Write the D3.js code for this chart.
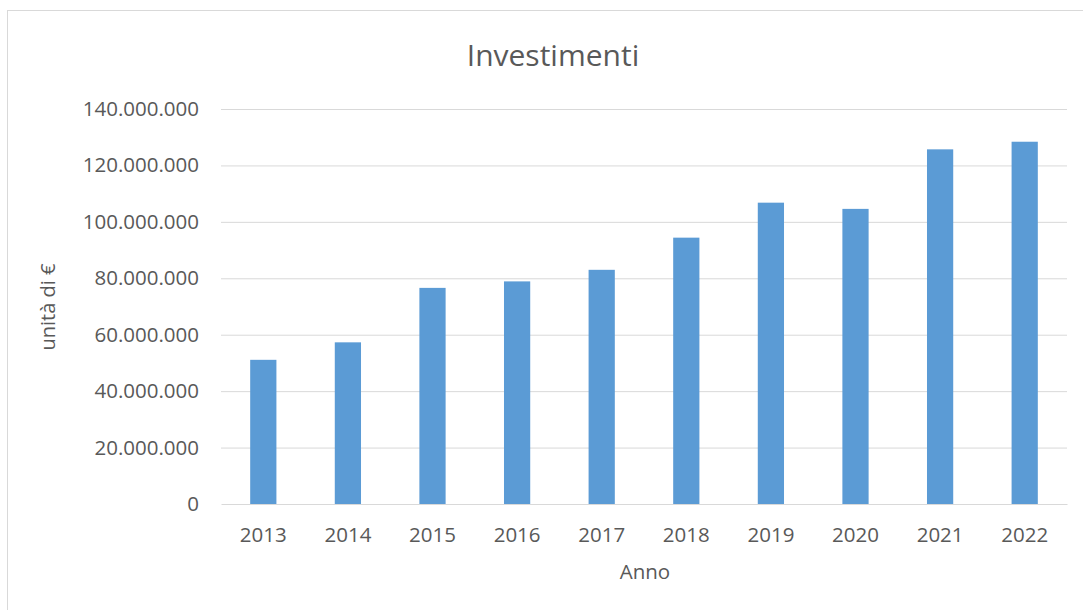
<!DOCTYPE html>
<html>
<head>
<meta charset="utf-8">
<script src="https://cdn.jsdelivr.net/npm/d3@7"></script>
<style>
  body { margin: 0; background: #fff; }
  text { font-family: "Open Sans", sans-serif; fill: #595959; }
</style>
</head>
<body>
<div id="chart"></div>
<script>
// data
const years = ["2013", "2014", "2015", "2016", "2017", "2018", "2019", "2020", "2021", "2022"];
const investimenti = [51100000, 57300000, 76600000, 78900000, 83000000, 94400000, 106800000, 104600000, 125700000, 128400000];
const yTicks = [0, 20000000, 40000000, 60000000, 80000000, 100000000, 120000000, 140000000];

const width = 1083, height = 610;
const margin = { top: 109, right: 16, bottom: 106, left: 221 };
const innerW = width - margin.left - margin.right;
const innerH = height - margin.top - margin.bottom;

const svg = d3.select("#chart")
    .append("svg")
    .attr("width", width)
    .attr("height", height);

// chart border (right and bottom edges run off the picture)
svg.append("rect")
    .attr("x", 7.5).attr("y", 10.5)
    .attr("width", width).attr("height", height)
    .attr("fill", "none")
    .attr("stroke", "#d9d9d9");

const g = svg.append("g")
    .attr("transform", "translate(" + margin.left + "," + margin.top + ")");

const x = d3.scaleBand()
    .domain(years)
    .range([0, innerW])
    .paddingInner(0.69)
    .paddingOuter(0.345);

const y = d3.scaleLinear()
    .domain([0, 140000000])
    .range([innerH, 0]);

const fmt = d3.formatLocale({ decimal: ",", thousands: ".", grouping: [3], currency: ["", "€"] }).format(",d");

// gridlines + y labels
const yAxis = g.append("g")
    .call(d3.axisLeft(y).tickValues(yTicks).tickSize(-innerW).tickPadding(22).tickFormat(fmt));
yAxis.select(".domain").remove();
yAxis.selectAll(".tick line").attr("stroke", "#d9d9d9");
yAxis.selectAll(".tick text").attr("font-size", 20.5).attr("fill", "#595959");
yAxis.selectAll(".tick").filter(d => d === 0).select("line").remove();

// bars
g.selectAll(".bar")
    .data(investimenti)
    .enter().append("rect")
    .attr("class", "bar")
    .attr("x", (d, i) => x(years[i]))
    .attr("width", x.bandwidth())
    .attr("y", d => y(d))
    .attr("height", d => innerH - y(d))
    .attr("fill", "#5b9bd5");

// x axis
const xAxis = g.append("g")
    .attr("transform", "translate(0," + innerH + ")")
    .call(d3.axisBottom(x).tickSize(0).tickPadding(23));
xAxis.select(".domain").attr("stroke", "#d9d9d9");
xAxis.selectAll(".tick text").attr("font-size", 20.5).attr("fill", "#595959");

// titles
svg.append("text")
    .attr("x", 553).attr("y", 66)
    .attr("text-anchor", "middle")
    .attr("font-size", 30)
    .text("Investimenti");

svg.append("text")
    .attr("x", 645).attr("y", 579)
    .attr("text-anchor", "middle")
    .attr("font-size", 20.5)
    .text("Anno");

svg.append("text")
    .attr("transform", "translate(55,307) rotate(-90)")
    .attr("text-anchor", "middle")
    .attr("font-size", 20)
    .text("unità di €");
</script>
</body>
</html>
